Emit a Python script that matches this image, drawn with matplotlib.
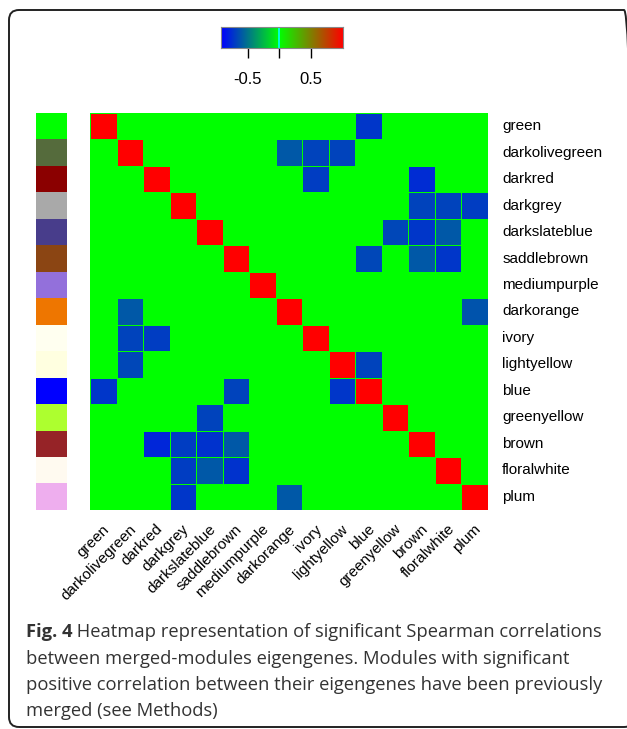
import matplotlib
matplotlib.use("Agg")
import matplotlib.pyplot as plt
from matplotlib.colors import LinearSegmentedColormap, Normalize
from matplotlib.patches import FancyBboxPatch
import numpy as np

# module names, top to bottom and left to right
modules = ["green", "darkolivegreen", "darkred", "darkgrey", "darkslateblue",
           "saddlebrown", "mediumpurple", "darkorange", "ivory", "lightyellow",
           "blue", "greenyellow", "brown", "floralwhite", "plum"]
side_colors = ["#00ff00", "#556b3c", "#8b0000", "#a9a9a9", "#483d8b",
               "#8b4513", "#9370db", "#ee7600", "#fffff0", "#ffffe0",
               "#0000ff", "#adff2f", "#962327", "#fffaf0", "#eeaeee"]

# significant negative correlations: (row, col, rho)
neg_rows = [0, 1, 1, 1, 2, 2, 3, 3, 3, 4, 4, 4, 5, 5, 5, 7, 7, 8, 8, 9, 9,
            10, 10, 10, 11, 12, 12, 12, 12, 13, 13, 13, 14, 14]
neg_cols = [10, 7, 8, 9, 8, 12, 12, 13, 14, 11, 12, 13, 10, 12, 13, 1, 14, 1, 2, 1, 10,
            0, 5, 9, 4, 2, 3, 4, 5, 3, 4, 5, 3, 7]
neg_vals = [-0.72, -0.60, -0.68, -0.68, -0.70, -0.76, -0.68, -0.68, -0.70,
            -0.66, -0.72, -0.60, -0.66, -0.60, -0.72, -0.60, -0.62, -0.68, -0.70,
            -0.66, -0.68, -0.72, -0.68, -0.72, -0.68, -0.78, -0.70, -0.74, -0.60,
            -0.70, -0.60, -0.74, -0.72, -0.60]

key_min, key_max = -0.92, 1.0
key_ticks = [-0.5, 0, 0.5]
key_labels = ["-0.5", "", "0.5"]

caption_bold = "Fig. 4"
caption_lines = [" Heatmap representation of significant Spearman correlations",
                 "between merged-modules eigengenes. Modules with significant",
                 "positive correlation between their eigengenes have been previously",
                 "merged (see Methods)"]

n = len(modules)
mat = np.zeros((n, n))
np.fill_diagonal(mat, 1.0)
for r, c, v in zip(neg_rows, neg_cols, neg_vals):
    mat[r, c] = v

mid = (0 - key_min) / (key_max - key_min)
cmap = LinearSegmentedColormap.from_list("bgr", [(0, "#0000ff"), (mid, "#00ff00"), (1, "#ff0000")])
norm = Normalize(key_min, key_max)

W, H = 627, 729
fig = plt.figure(figsize=(W / 100, H / 100), dpi=100)
plt.rcParams['font.family'] = ['Liberation Sans', 'DejaVu Sans']


def px_axes(x0, y0, x1, y1):
    return fig.add_axes([x0 / W, 1 - y1 / H, (x1 - x0) / W, (y1 - y0) / H])


# rounded frame (right edge runs off the picture)
frame = FancyBboxPatch((0.09, 0.02), 6.25, 7.17, boxstyle="round,pad=0,rounding_size=0.1",
                       transform=fig.dpi_scale_trans, fill=False, lw=1.4, ec="#222222")
fig.add_artist(frame)

# heatmap
ax = px_axes(90, 113, 488, 510)
ax.pcolormesh(np.arange(n + 1), np.arange(n + 1), mat, cmap=cmap, norm=norm,
              edgecolors="#00ff00", linewidth=0.4)
ax.set_xlim(0, n)
ax.set_ylim(n, 0)
ax.set_xticks([])
ax.set_yticks([])
for s in ax.spines.values():
    s.set_visible(False)
for i, name in enumerate(modules):
    ax.text(n + 0.53, i + 0.5, name, ha="left", va="center", fontsize=11)
    ax.annotate(name, xy=(i + 0.5, n), xycoords="data", xytext=(-1, -12),
                textcoords="offset pixels", ha="right", va="top",
                rotation=45, rotation_mode="anchor", fontsize=11, annotation_clip=False)

# module colour side bar
sax = px_axes(36, 113, 67, 510)
sax.imshow(np.array([matplotlib.colors.to_rgb(c) for c in side_colors])[:, None, :],
           aspect="auto", extent=(0, 1, n, 0), interpolation="nearest")
sax.set_xticks([])
sax.set_yticks([])
for s in sax.spines.values():
    s.set_visible(False)

# colour key
kax = px_axes(221, 27, 343, 48)
grad = np.linspace(key_min, key_max, 256)[None, :]
kax.imshow(grad, cmap=cmap, norm=norm, aspect="auto", extent=(key_min, key_max, 0, 1))
kax.axvline(0, color="cyan", lw=1.2)
kax.set_xlim(key_min, key_max)
kax.set_yticks([])
kax.set_xticks(key_ticks)
kax.set_xticklabels(key_labels, fontsize=12)
kax.tick_params(axis="x", length=7, width=1, pad=10)
for s in kax.spines.values():
    s.set_color("#888888")
    s.set_linewidth(0.8)

# caption
cap_font = ['Open Sans', 'DejaVu Sans']
cap_color = "#333333"
cap_size = 13.2
y0 = 637
t = fig.text(26 / W, 1 - y0 / H, caption_bold, fontsize=cap_size, fontweight="bold",
             family=cap_font, color=cap_color, va="baseline")
renderer = fig.canvas.get_renderer()
bw = t.get_window_extent(renderer=renderer).width
fig.text((26 + bw) / W, 1 - y0 / H, caption_lines[0], fontsize=cap_size,
         family=cap_font, color=cap_color, va="baseline")
for k, line in enumerate(caption_lines[1:], start=1):
    fig.text(26 / W, 1 - (y0 + 26.5 * k) / H, line, fontsize=cap_size,
             family=cap_font, color=cap_color, va="baseline")

fig.savefig("out.png", dpi=100)
